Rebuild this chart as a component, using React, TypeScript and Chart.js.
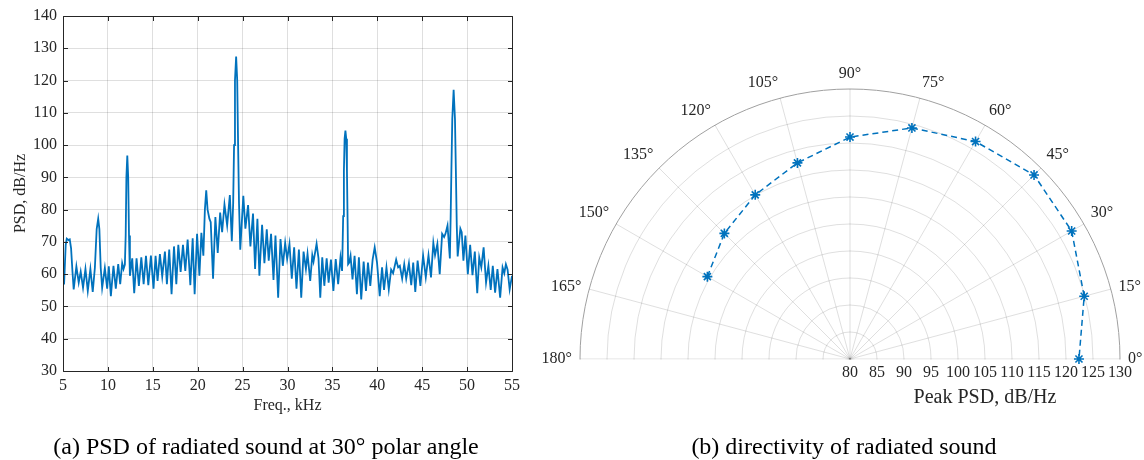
import React, { useEffect, useRef } from 'react';
import { Chart, registerables } from 'chart.js';

Chart.register(...registerables);

// ---------- Left panel: PSD spectrum at 30° polar angle ----------
const freqKHz = [
  5.0, 5.12, 5.3, 5.42, 5.6, 5.75, 5.9, 6.05, 6.19, 6.49,
  6.75, 6.97, 7.23, 7.5, 7.76, 8.05, 8.31, 8.55, 8.75, 8.92,
  9.05, 9.2, 9.36, 9.66, 9.92, 10.1, 10.33, 10.62, 10.88, 11.15,
  11.37, 11.59, 11.74, 11.89, 11.98, 12.06, 12.16, 12.26, 12.35, 12.45,
  12.71, 12.93, 13.19, 13.45, 13.72, 13.98, 14.24, 14.5, 14.79, 15.08,
  15.31, 15.53, 15.79, 16.05, 16.35, 16.57, 16.83, 17.09, 17.36, 17.62,
  17.84, 18.1, 18.36, 18.62, 18.88, 19.18, 19.44, 19.66, 19.93, 20.19,
  20.41, 20.63, 20.8, 20.95, 21.1, 21.3, 21.45, 21.71, 21.97, 22.23,
  22.5, 22.72, 22.98, 23.28, 23.58, 23.8, 23.95, 24.05, 24.15, 24.28,
  24.4, 24.5, 24.6, 24.74, 25.08, 25.31, 25.61, 25.87, 26.16, 26.39,
  26.65, 26.87, 27.17, 27.43, 27.69, 27.91, 28.17, 28.44, 28.66, 28.96,
  29.22, 29.48, 29.74, 29.96, 30.22, 30.48, 30.74, 31.0, 31.27, 31.53,
  31.79, 32.05, 32.23, 32.53, 32.76, 32.9, 33.24, 33.45, 33.65, 33.87,
  34.1, 34.36, 34.58, 34.84, 35.11, 35.37, 35.64, 35.9, 36.08, 36.2,
  36.28, 36.36, 36.45, 36.54, 36.62, 36.7, 36.75, 36.87, 37.02, 37.24,
  37.47, 37.73, 37.95, 38.21, 38.48, 38.74, 38.96, 39.22, 39.48, 39.71,
  39.97, 40.27, 40.53, 40.75, 41.02, 41.28, 41.54, 41.76, 42.1, 42.32,
  42.51, 42.77, 43.0, 43.22, 43.52, 43.78, 44.0, 44.23, 44.49, 44.8,
  45.1, 45.4, 45.7, 45.98, 46.24, 46.43, 46.69, 46.95, 47.22, 47.44,
  47.59, 47.82, 48.08, 48.17, 48.25, 48.35, 48.5, 48.65, 48.75, 48.85,
  48.95, 49.25, 49.4, 49.59, 49.81, 50.08, 50.34, 50.6, 50.86, 51.13,
  51.35, 51.58, 51.84, 52.11, 52.37, 52.63, 52.86, 53.12, 53.38, 53.68,
  53.95, 54.14, 54.32, 54.51, 54.74, 55.0,
];

const psdDb = [
  60, 56.8, 69, 71, 70.6, 70.8, 68, 61, 55.3, 62.4,
  57.4, 60.8, 55.8, 61.6, 54.8, 61.6, 54.5, 62, 74, 77.2,
  74, 62, 55.8, 61.9, 55.5, 62.4, 53.2, 62.6, 55.5, 63.1,
  56.9, 63.4, 61.6, 63, 72, 90, 96.8, 90, 72, 59.5,
  64.9, 54.1, 64.9, 56.4, 65.2, 56.9, 65.7, 56.6, 65.8, 55.5,
  65.7, 57.9, 66.2, 59.3, 67, 56.9, 67.6, 53.8, 68.6, 56.9,
  69.1, 60.7, 69.1, 61, 70.7, 56.6, 71.1, 53.8, 72.5, 59.5,
  72.8, 65.7, 80, 86, 80, 77.2, 76.1, 58.6, 77.7, 66.6,
  79.1, 73, 81.6, 75.1, 84.5, 70.2, 82, 100, 120, 127.4,
  120, 100, 82, 67.6, 84.3, 74.1, 81.4, 68.6, 78.8, 61.6,
  77.2, 59.5, 75.3, 63.4, 73.9, 64.2, 72.5, 58.2, 72, 52.7,
  70.9, 62.6, 69.7, 64.7, 69.4, 58.6, 68.3, 55.5, 67.6, 52.7,
  67, 61.6, 66.3, 57.9, 65.9, 63.9, 69.4, 65, 52.7, 65.2,
  56.4, 64.9, 57.4, 64.5, 54.8, 64.7, 56.9, 65.2, 61, 78,
  92, 102, 104.5, 102, 92, 75, 63.1, 63.6, 65.7, 58.4,
  65.7, 53.8, 65.2, 52.2, 63.9, 54.8, 63.6, 56.4, 64.5, 68.3,
  63.6, 53.2, 62.1, 55.1, 62.1, 55.3, 61.4, 60.3, 64.5, 62.1,
  62.6, 58.6, 63.1, 58.6, 63.4, 56.6, 63.6, 54.5, 64.2, 56.4,
  65.8, 59, 65.9, 59, 69.7, 65.9, 69.4, 60, 72.5, 71.5,
  72.5, 75.1, 64.9, 78, 92, 108, 117.1, 108, 92, 75,
  65.5, 74.1, 73, 64.2, 72, 60, 69.1, 59.7, 67, 54.1,
  65.2, 62.1, 68.3, 57.4, 62.6, 55.1, 62.6, 54.3, 61.6, 52.7,
  62.1, 60.3, 63.1, 61.4, 55.3, 59.5,
];

const freqRange = [5, 55];
const freqStep = 5;
const psdRange = [30, 140];
const psdStep = 10;

// ---------- Right panel: directivity (peak PSD vs polar angle) ----------
const polarAngleDeg = [0, 15, 30, 45, 60, 75, 90, 105, 120, 135, 150];
const peakPsdDb = [122.4, 124.9, 127.4, 128.2, 126.5, 124.3, 121.1, 117.6, 115.1, 112.9, 110.5];
const thetaTickDeg = [0, 15, 30, 45, 60, 75, 90, 105, 120, 135, 150, 165, 180];
const rTickValues = [80, 85, 90, 95, 100, 105, 110, 115, 120, 125, 130];
const thetaStepDeg = 15;

const FONT = '"Liberation Serif", "Times New Roman", Times, serif';
const AX = '#262626';
const GRID = 'rgba(38,38,38,0.15)';
const BLUE = '#0072BD';

function PsdChart() {
  const ref = useRef<HTMLCanvasElement>(null);
  useEffect(() => {
    const boxPlugin = {
      id: 'boxTicks',
      afterDraw(chart: any) {
        const { ctx, chartArea: a, scales } = chart;
        const x = scales.x;
        const y = scales.y;
        ctx.save();
        ctx.strokeStyle = AX;
        ctx.lineWidth = 1;
        const L = Math.round(a.left) + 0.5;
        const R = Math.round(a.right) + 0.5;
        const T = Math.round(a.top) + 0.5;
        const B = Math.round(a.bottom) + 0.5;
        ctx.beginPath();
        ctx.rect(L, T, R - L, B - T);
        const tl = 4.5;
        x.ticks.forEach((t: any) => {
          const px = Math.round(x.getPixelForValue(t.value)) + 0.5;
          ctx.moveTo(px, B);
          ctx.lineTo(px, B - tl);
          ctx.moveTo(px, T);
          ctx.lineTo(px, T + tl);
        });
        y.ticks.forEach((t: any) => {
          const py = Math.round(y.getPixelForValue(t.value)) + 0.5;
          ctx.moveTo(L, py);
          ctx.lineTo(L + tl, py);
          ctx.moveTo(R, py);
          ctx.lineTo(R - tl, py);
        });
        ctx.stroke();
        ctx.restore();
      },
    };
    const chart = new Chart(ref.current as HTMLCanvasElement, {
      type: 'line',
      data: {
        datasets: [
          {
            data: freqKHz.map((f, i) => ({ x: f, y: psdDb[i] })),
            borderColor: BLUE,
            borderWidth: 1.8,
            pointRadius: 0,
            tension: 0,
            fill: false,
          },
        ],
      },
      options: {
        responsive: false,
        animation: false,
        devicePixelRatio: 1,
        layout: { padding: { top: 16, right: 18, left: 0, bottom: 0 } },
        plugins: { legend: { display: false }, tooltip: { enabled: false } },
        scales: {
          x: {
            type: 'linear',
            min: freqRange[0],
            max: freqRange[1],
            afterFit: (s: any) => {
              s.height = 49;
            },
            ticks: {
              stepSize: freqStep,
              color: AX,
              font: { family: FONT, size: 16 },
              padding: 5,
              maxRotation: 0,
              autoSkip: false,
            },
            grid: { color: GRID, drawTicks: false },
            border: { display: false },
            title: {
              display: true,
              text: 'Freq., kHz',
              color: AX,
              font: { family: FONT, size: 16 },
              padding: { top: 0, bottom: 5 },
            },
          },
          y: {
            type: 'linear',
            min: psdRange[0],
            max: psdRange[1],
            afterFit: (s: any) => {
              s.width = 63;
            },
            ticks: {
              stepSize: psdStep,
              color: AX,
              font: { family: FONT, size: 16 },
              padding: 6,
              autoSkip: false,
            },
            grid: { color: GRID, drawTicks: false },
            border: { display: false },
            title: {
              display: true,
              text: 'PSD, dB/Hz',
              color: AX,
              font: { family: FONT, size: 16 },
              padding: { top: 11, bottom: 0 },
            },
          },
        },
      } as any,
      plugins: [boxPlugin],
    });
    return () => chart.destroy();
  }, []);
  return (
    <canvas
      ref={ref}
      width={530}
      height={420}
      style={{ position: 'absolute', left: 0, top: 0, width: 530, height: 420 }}
    />
  );
}

function PolarChart() {
  const ref = useRef<HTMLCanvasElement>(null);
  useEffect(() => {
    const count = 360 / thetaStepDeg;
    // Chart.js runs its categories clockwise, so list angles 0, 345, 330, ... to get a counter-clockwise theta axis
    const thetaLabels = Array.from({ length: count }, (_, i) => (360 - thetaStepDeg * i) % 360);
    const radarData: (number | null)[] = thetaLabels.map(() => null);
    polarAngleDeg.forEach((a, k) => {
      radarData[thetaLabels.indexOf(a)] = peakPsdDb[k];
    });

    const halfClip = {
      id: 'halfClip',
      beforeDraw(chart: any) {
        const s = chart.scales.r;
        const ctx = chart.ctx;
        ctx.save();
        ctx.beginPath();
        ctx.rect(0, 0, chart.width, s.yCenter + 0.6);
        ctx.rect(0, 0, chart.width, chart.height);
        const rr = s.drawingArea + 1.5;
        ctx.moveTo(s.xCenter + rr, s.yCenter);
        ctx.arc(s.xCenter, s.yCenter, rr, 0, Math.PI * 2, true);
        ctx.clip();
      },
      beforeDatasetsDraw(chart: any) {
        chart.ctx.restore();
      },
    };

    const polarText = {
      id: 'polarText',
      afterDraw(chart: any) {
        const s = chart.scales.r;
        const ctx = chart.ctx;
        const R = s.drawingArea;
        ctx.save();
        ctx.fillStyle = AX;
        ctx.textBaseline = 'middle';
        ctx.font = `16px ${FONT}`;
        thetaTickDeg.forEach((a) => {
          const idx = thetaLabels.indexOf(a % 360);
          const text = `${a}°`;
          const rad = (a * Math.PI) / 180;
          const c = Math.cos(rad);
          const sn = Math.sin(rad);
          const p = s.getPointPosition(idx, R + 8);
          ctx.textAlign = Math.abs(c) < 0.1 ? 'center' : c > 0 ? 'left' : 'right';
          const dy = sn > 0.3 ? -7.5 : 0;
          ctx.fillText(text, p.x, p.y + dy);
        });
        ctx.textAlign = 'center';
        rTickValues.forEach((v) => {
          ctx.fillText(String(v), s.xCenter + s.getDistanceFromCenterForValue(v), s.yCenter + 14);
        });
        ctx.font = `20px ${FONT}`;
        ctx.fillText('Peak PSD, dB/Hz', s.xCenter + R / 2, s.yCenter + 39);
        ctx.restore();
      },
    };

    const chart = new Chart(ref.current as HTMLCanvasElement, {
      type: 'radar',
      data: {
        labels: thetaLabels.map((a) => `${a}°`),
        datasets: [
          {
            data: radarData,
            borderColor: BLUE,
            borderWidth: 1.5,
            borderDash: [6, 4],
            fill: false,
            spanGaps: false,
            pointStyle: 'star',
            pointRadius: 5,
            pointBorderWidth: 1.6,
            pointBorderColor: BLUE,
            pointBackgroundColor: BLUE,
          },
        ],
      },
      options: {
        responsive: false,
        animation: false,
        devicePixelRatio: 1,
        layout: { padding: 50 },
        plugins: { legend: { display: false }, tooltip: { enabled: false } },
        elements: { line: { tension: 0 } },
        scales: {
          r: {
            min: rTickValues[0],
            max: rTickValues[rTickValues.length - 1],
            startAngle: 90,
            ticks: { display: false, stepSize: 5 },
            pointLabels: { display: false },
            grid: {
              circular: true,
              color: (c: any) =>
                c.tick && c.tick.value === rTickValues[rTickValues.length - 1] ? '#a0a0a0' : GRID,
              lineWidth: 1,
            },
            angleLines: { display: true, color: GRID, lineWidth: 1 },
          },
        },
      } as any,
      plugins: [halfClip, polarText],
    });
    return () => chart.destroy();
  }, []);
  return (
    <canvas
      ref={ref}
      width={640}
      height={640}
      style={{ position: 'absolute', left: 530, top: 39, width: 640, height: 640 }}
    />
  );
}

const captionStyle: React.CSSProperties = {
  position: 'absolute',
  top: 434,
  width: 600,
  textAlign: 'center',
  fontFamily: FONT,
  fontSize: 24,
  lineHeight: '24px',
  color: '#000',
  whiteSpace: 'nowrap',
};

export default function App() {
  return (
    <div
      style={{
        position: 'fixed',
        left: 0,
        top: 0,
        width: 1144,
        height: 460,
        overflow: 'hidden',
        background: '#fff',
      }}
    >
      <PsdChart />
      <PolarChart />
      <div style={{ ...captionStyle, left: 266 - 300 }}>(a) PSD of radiated sound at 30° polar angle</div>
      <div style={{ ...captionStyle, left: 844 - 300 }}>(b) directivity of radiated sound</div>
    </div>
  );
}
